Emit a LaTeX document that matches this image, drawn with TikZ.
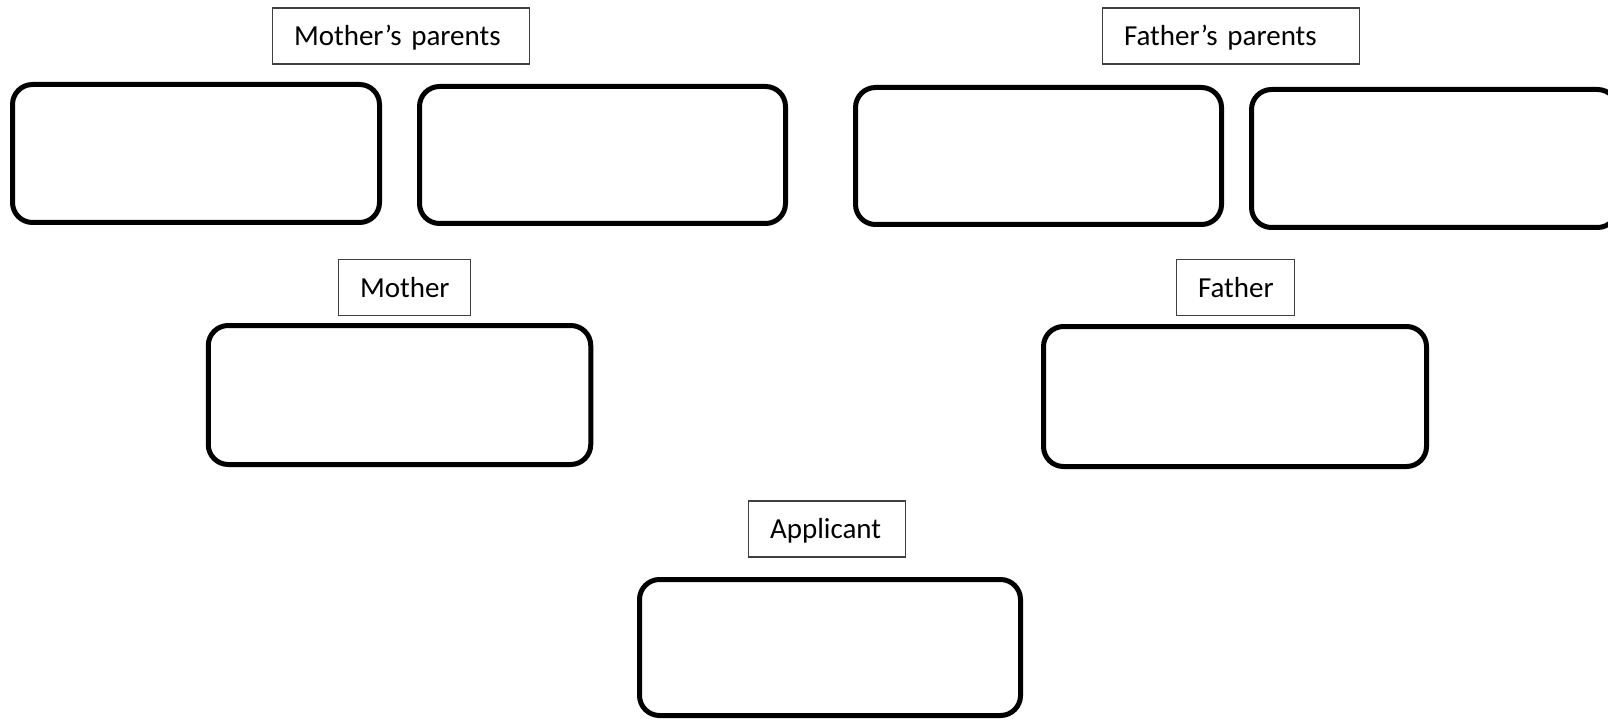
\documentclass[tikz,border=0pt]{standalone}
\usepackage{fontspec}
\setmainfont{Carlito}
\begin{document}
\begin{tikzpicture}[x=1pt,y=-1pt,
  famcard/.style={draw=black, line width=5pt, rounded corners=20pt, inner sep=0pt},
  tagbox/.style={draw=black!75, line width=1.1pt, inner xsep=21.5pt, inner ysep=0pt,
    text height=19pt, text depth=0pt, align=left, minimum height=56pt,
    font=\fontsize{29}{34}\selectfont}]
\useasboundingbox (0,0) rectangle (1608,719);
% labels
\node[tagbox, text width=214pt] (mplabel) at (401,36) {Mother’s parents};
\node[tagbox, text width=214pt] (fplabel) at (1231,36) {Father’s parents};
\node[tagbox, text width=89pt] (mlabel) at (404.5,287.5) {Mother};
\node[tagbox, text width=75pt] (flabel) at (1235.5,287.5) {Father};
\node[tagbox, text width=114pt] (alabel) at (827,529) {Applicant};
% boxes
\node[famcard, minimum width=367pt, minimum height=138pt] (mp1) at (196,153.5) {};
\node[famcard, minimum width=366pt, minimum height=137pt] (mp2) at (602.5,155) {};
\node[famcard, minimum width=366pt, minimum height=137pt] (fp1) at (1038.5,156) {};
\node[famcard, minimum width=366pt, minimum height=138pt] (fp2) at (1434.5,158.5) {};
\node[famcard, minimum width=382.5pt, minimum height=139pt] (mother) at (399.5,395) {};
\node[famcard, minimum width=383pt, minimum height=140pt] (father) at (1235,396.5) {};
\node[famcard, minimum width=381pt, minimum height=136pt] (applicant) at (830,647.5) {};
\end{tikzpicture}
\end{document}
